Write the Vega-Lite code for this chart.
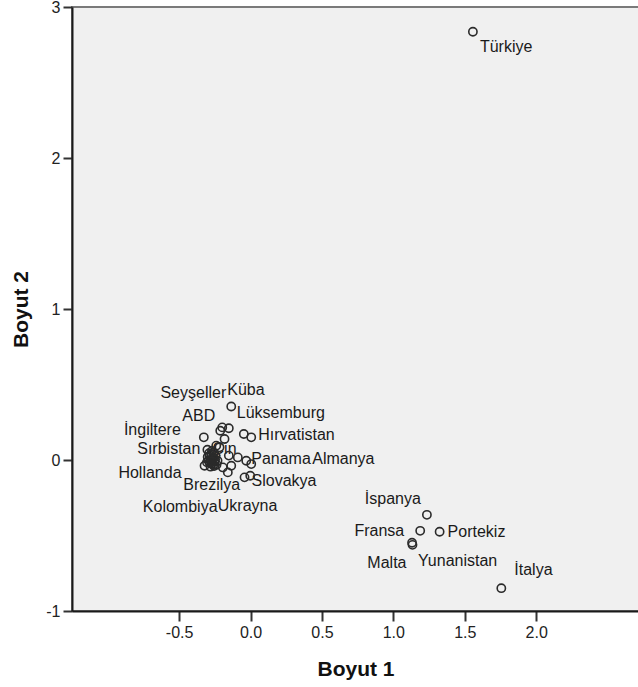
{
  "$schema": "https://vega.github.io/schema/vega-lite/v6.json",
  "autosize": {"type": "none"},
  "padding": {"left": 72, "top": 7, "right": 0, "bottom": 76},
  "width": 567,
  "height": 604,
  "background": "#ffffff",
  "config": {
    "font": "Liberation Sans",
    "view": {"fill": "#f0f0f0", "stroke": "#7a7a7a", "strokeWidth": 2},
    "axis": {
      "grid": false,
      "domainColor": "#1a1a1a",
      "domainWidth": 2,
      "tickColor": "#333333",
      "tickWidth": 2,
      "labelFont": "Liberation Sans",
      "labelFontSize": 16,
      "labelColor": "#222222",
      "titleFont": "Liberation Sans",
      "titleFontSize": 21,
      "titleFontWeight": "bold",
      "titleColor": "#111111"
    }
  },
  "data": {
    "values": [
      {"name": "Türkiye", "b1": 1.557, "b2": 2.836},
      {"name": "İtalya", "b1": 1.756, "b2": -0.849},
      {"name": "Portekiz", "b1": 1.324, "b2": -0.475},
      {"name": "İspanya", "b1": 1.235, "b2": -0.363},
      {"name": "Fransa", "b1": 1.188, "b2": -0.469},
      {"name": "Malta", "b1": 1.134, "b2": -0.562},
      {"name": "Yunanistan", "b1": 1.131, "b2": -0.548},
      {"name": "Küba", "b1": -0.135, "b2": 0.354},
      {"name": "Seyşeller", "b1": -0.198, "b2": 0.216},
      {"name": "ABD", "b1": -0.212, "b2": 0.194},
      {"name": "Lüksemburg", "b1": -0.152, "b2": 0.21},
      {"name": "İngiltere", "b1": -0.327, "b2": 0.15},
      {"name": "Hırvatistan", "b1": 0.005, "b2": 0.15},
      {"name": "Sırbistan", "b1": -0.302, "b2": 0.068},
      {"name": "Çin", "b1": -0.217, "b2": 0.084},
      {"name": "Panama", "b1": -0.03, "b2": -0.005},
      {"name": "Almanya", "b1": 0.005, "b2": -0.027},
      {"name": "Hollanda", "b1": -0.322, "b2": -0.038},
      {"name": "Brezilya", "b1": -0.194, "b2": -0.049},
      {"name": "Slovakya", "b1": -0.042, "b2": -0.115},
      {"name": "Kolombiya", "b1": -0.28, "b2": -0.044},
      {"name": "Ukrayna", "b1": -0.159, "b2": -0.082},
      {"name": "Avusturya", "b1": -0.182, "b2": 0.139},
      {"name": "Belçika", "b1": -0.047, "b2": 0.172},
      {"name": "Rusya", "b1": -0.24, "b2": 0.095},
      {"name": "Japonya", "b1": -0.152, "b2": 0.029},
      {"name": "Kanada", "b1": -0.089, "b2": 0.017},
      {"name": "Macaristan", "b1": -0.002, "b2": -0.104},
      {"name": "Polonya", "b1": -0.135, "b2": -0.038},
      {"name": "Romanya", "b1": -0.287, "b2": 0.029},
      {"name": "Bulgaristan", "b1": -0.266, "b2": 0.009},
      {"name": "İsveç", "b1": -0.252, "b2": -0.011},
      {"name": "Norveç", "b1": -0.273, "b2": -0.025},
      {"name": "Danimarka", "b1": -0.294, "b2": -0.005},
      {"name": "Finlandiya", "b1": -0.245, "b2": 0.029},
      {"name": "İrlanda", "b1": -0.259, "b2": 0.048},
      {"name": "Meksika", "b1": -0.231, "b2": -0.005},
      {"name": "Arjantin", "b1": -0.238, "b2": -0.031},
      {"name": "Şili", "b1": -0.28, "b2": 0.0},
      {"name": "Avustralya", "b1": -0.26, "b2": -0.03},
      {"name": "Hindistan", "b1": -0.3, "b2": 0.02},
      {"name": "Çek Cumhuriyeti", "b1": -0.27, "b2": 0.06},
      {"name": "Slovenya", "b1": -0.285, "b2": -0.02},
      {"name": "Estonya", "b1": -0.262, "b2": 0.018},
      {"name": "Letonya", "b1": -0.275, "b2": 0.038},
      {"name": "Litvanya", "b1": -0.248, "b2": 0.004},
      {"name": "Peru", "b1": -0.29, "b2": 0.045},
      {"name": "Ekvador", "b1": -0.255, "b2": -0.04},
      {"name": "Uruguay", "b1": -0.305, "b2": -0.015},
      {"name": "Mısır", "b1": -0.268, "b2": -0.008}
    ]
  },
  "encoding": {
    "x": {
      "field": "b1", "type": "quantitative",
      "scale": {"domain": [-1.25, 2.72], "nice": false, "zero": false},
      "axis": {"values": [-0.5, 0, 0.5, 1, 1.5, 2], "format": ".1f", "labelExpr": "replace(datum.label, '\u2212', '-')", "tickSize": 10, "labelPadding": 3, "title": "Boyut 1", "titlePadding": 18}
    },
    "y": {
      "field": "b2", "type": "quantitative",
      "scale": {"domain": [-1, 3], "nice": false, "zero": false},
      "axis": {"values": [-1, 0, 1, 2, 3], "format": "d", "labelExpr": "replace(datum.label, '\u2212', '-')", "tickSize": 9, "labelPadding": 3, "title": "Boyut 2", "titlePadding": 14}
    },
    "text": {"field": "name"}
  },
  "layer": [
    {"transform": [{"filter": "datum.name === 'Türkiye'"}], "mark": {"type": "text", "align": "left", "baseline": "middle", "dx": 7, "dy": 15, "fontSize": 16, "color": "#1a1a1a"}},
    {"transform": [{"filter": "datum.name === 'İtalya'"}], "mark": {"type": "text", "align": "left", "baseline": "middle", "dx": 13, "dy": -18, "fontSize": 16, "color": "#1a1a1a"}},
    {"transform": [{"filter": "datum.name === 'Portekiz'"}], "mark": {"type": "text", "align": "left", "baseline": "middle", "dx": 8, "dy": 0, "fontSize": 16, "color": "#1a1a1a"}},
    {"transform": [{"filter": "datum.name === 'İspanya'"}], "mark": {"type": "text", "align": "right", "baseline": "middle", "dx": -6, "dy": -16, "fontSize": 16, "color": "#1a1a1a"}},
    {"transform": [{"filter": "datum.name === 'Fransa'"}], "mark": {"type": "text", "align": "right", "baseline": "middle", "dx": -16, "dy": 0, "fontSize": 16, "color": "#1a1a1a"}},
    {"transform": [{"filter": "datum.name === 'Malta'"}], "mark": {"type": "text", "align": "right", "baseline": "middle", "dx": -6, "dy": 18, "fontSize": 16, "color": "#1a1a1a"}},
    {"transform": [{"filter": "datum.name === 'Yunanistan'"}], "mark": {"type": "text", "align": "left", "baseline": "middle", "dx": 6, "dy": 18, "fontSize": 16, "color": "#1a1a1a"}},
    {"transform": [{"filter": "datum.name === 'Küba'"}], "mark": {"type": "text", "align": "left", "baseline": "middle", "dx": -4, "dy": -17, "fontSize": 16, "color": "#1a1a1a"}},
    {"transform": [{"filter": "datum.name === 'Seyşeller'"}], "mark": {"type": "text", "align": "right", "baseline": "middle", "dx": 4, "dy": -34, "fontSize": 16, "color": "#1a1a1a"}},
    {"transform": [{"filter": "datum.name === 'ABD'"}], "mark": {"type": "text", "align": "right", "baseline": "middle", "dx": -5, "dy": -15, "fontSize": 16, "color": "#1a1a1a"}},
    {"transform": [{"filter": "datum.name === 'Lüksemburg'"}], "mark": {"type": "text", "align": "left", "baseline": "middle", "dx": 8, "dy": -15, "fontSize": 16, "color": "#1a1a1a"}},
    {"transform": [{"filter": "datum.name === 'İngiltere'"}], "mark": {"type": "text", "align": "right", "baseline": "middle", "dx": -23, "dy": -7, "fontSize": 16, "color": "#1a1a1a"}},
    {"transform": [{"filter": "datum.name === 'Hırvatistan'"}], "mark": {"type": "text", "align": "left", "baseline": "middle", "dx": 7, "dy": -2, "fontSize": 16, "color": "#1a1a1a"}},
    {"transform": [{"filter": "datum.name === 'Sırbistan'"}], "mark": {"type": "text", "align": "right", "baseline": "middle", "dx": -7, "dy": -1, "fontSize": 16, "color": "#1a1a1a"}},
    {"transform": [{"filter": "datum.name === 'Çin'"}], "mark": {"type": "text", "align": "left", "baseline": "middle", "dx": -7, "dy": 2, "fontSize": 16, "color": "#1a1a1a"}},
    {"transform": [{"filter": "datum.name === 'Panama'"}], "mark": {"type": "text", "align": "left", "baseline": "middle", "dx": 5, "dy": -2, "fontSize": 16, "color": "#1a1a1a"}},
    {"transform": [{"filter": "datum.name === 'Almanya'"}], "mark": {"type": "text", "align": "left", "baseline": "middle", "dx": 61, "dy": -5, "fontSize": 16, "color": "#1a1a1a"}},
    {"transform": [{"filter": "datum.name === 'Hollanda'"}], "mark": {"type": "text", "align": "right", "baseline": "middle", "dx": -23, "dy": 7, "fontSize": 16, "color": "#1a1a1a"}},
    {"transform": [{"filter": "datum.name === 'Brezilya'"}], "mark": {"type": "text", "align": "center", "baseline": "middle", "dx": -11, "dy": 18, "fontSize": 16, "color": "#1a1a1a"}},
    {"transform": [{"filter": "datum.name === 'Slovakya'"}], "mark": {"type": "text", "align": "left", "baseline": "middle", "dx": 7, "dy": 4, "fontSize": 16, "color": "#1a1a1a"}},
    {"transform": [{"filter": "datum.name === 'Kolombiya'"}], "mark": {"type": "text", "align": "right", "baseline": "middle", "dx": 7, "dy": 40, "fontSize": 16, "color": "#1a1a1a"}},
    {"transform": [{"filter": "datum.name === 'Ukrayna'"}], "mark": {"type": "text", "align": "left", "baseline": "middle", "dx": -10, "dy": 34, "fontSize": 16, "color": "#1a1a1a"}},
    {"mark": {"type": "point", "shape": "circle", "filled": false, "size": 68, "strokeWidth": 1.6, "color": "#2b2b2b", "opacity": 1}}
  ]
}
